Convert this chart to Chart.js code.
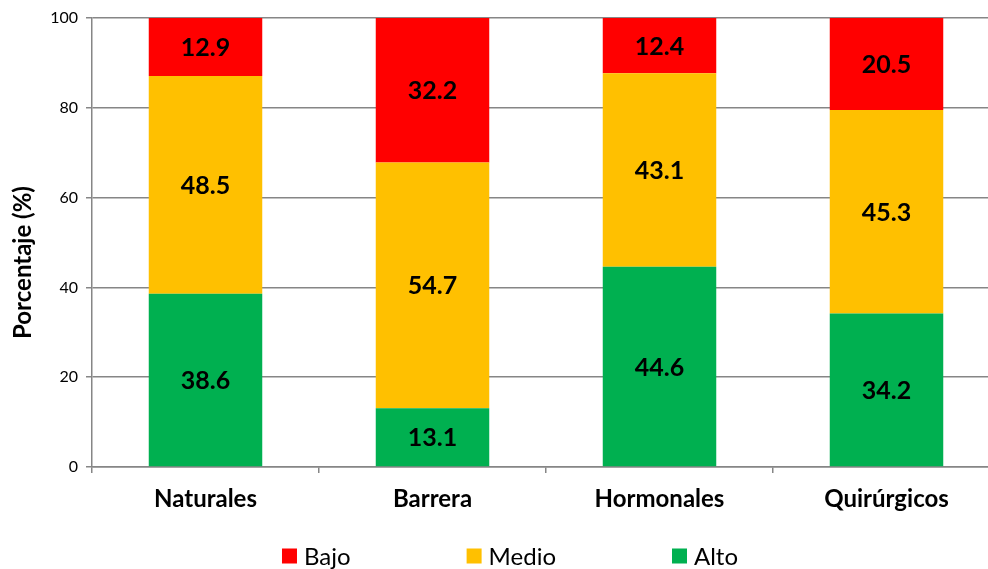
<!DOCTYPE html>
<html>
<head>
<meta charset="utf-8">
<script src="https://cdn.jsdelivr.net/npm/chart.js@4/dist/chart.umd.min.js"></script>
<style>
  html, body { margin: 0; padding: 0; background: #fff; overflow: hidden; }
  #wrap { width: 1000px; height: 569px; }
</style>
</head>
<body>
<div id="wrap"><canvas id="c" width="1000" height="569"></canvas></div>
<script>
// Métodos anticonceptivos y nivel de conocimiento (%)
const categories = ['Naturales', 'Barrera', 'Hormonales', 'Quirúrgicos'];
const bajo  = [12.9, 32.2, 12.4, 20.5];
const medio = [48.5, 54.7, 43.1, 45.3];
const alto  = [38.6, 13.1, 44.6, 34.2];
const yTicks = [0, 20, 40, 60, 80, 100];
const yTitle = 'Porcentaje (%)';

const FONT = 'Lato, "Open Sans", sans-serif';
const GRID = '#868686';

// Value labels centred in each stacked segment
const segmentLabels = {
  id: 'segmentLabels',
  afterDatasetsDraw(chart) {
    const ctx = chart.ctx;
    ctx.save();
    ctx.font = 'bold 25px ' + FONT;
    ctx.fillStyle = '#000';
    ctx.textAlign = 'center';
    ctx.textBaseline = 'middle';
    chart.data.datasets.forEach((ds, i) => {
      chart.getDatasetMeta(i).data.forEach((bar, j) => {
        const top = Math.max(bar.y, chart.chartArea.top);
        const cy = (top + bar.base) / 2;
        ctx.fillText(ds.data[j].toFixed(1), bar.x, cy + 1);
      });
    });
    ctx.restore();
  }
};

// Rotated y-axis title, sitting a little below the axis midpoint
const axisTitle = {
  id: 'axisTitle',
  afterDraw(chart) {
    const ctx = chart.ctx;
    const area = chart.chartArea;
    ctx.save();
    ctx.translate(23, (area.top + area.bottom) / 2 + 20);
    ctx.rotate(-Math.PI / 2);
    ctx.font = 'bold 24px ' + FONT;
    ctx.fillStyle = '#000';
    ctx.textAlign = 'center';
    ctx.textBaseline = 'middle';
    ctx.fillText(yTitle, 0, 0);
    ctx.restore();
  }
};

// Bottom legend with wide, even spacing between entries
const bottomLegend = {
  id: 'bottomLegend',
  afterDraw(chart) {
    const ctx = chart.ctx;
    const items = chart.data.datasets.slice().reverse();
    const box = 15, gapText = 7, gapItem = 116, cy = 556, centre = 510;
    ctx.save();
    ctx.font = '24px ' + FONT;
    ctx.textBaseline = 'middle';
    const widths = items.map(d => box + gapText + ctx.measureText(d.label).width);
    const total = widths.reduce((a, b) => a + b, 0) + gapItem * (items.length - 1);
    let x = centre - total / 2;
    items.forEach((d, i) => {
      ctx.fillStyle = d.backgroundColor;
      ctx.fillRect(x, cy - box / 2, box, box);
      ctx.fillStyle = '#000';
      ctx.textAlign = 'left';
      ctx.fillText(d.label, x + box + gapText, cy + 1);
      x += widths[i] + gapItem;
    });
    ctx.restore();
  }
};

new Chart(document.getElementById('c'), {
  type: 'bar',
  data: {
    labels: categories,
    datasets: [
      { label: 'Alto',  data: alto,  backgroundColor: '#00B050' },
      { label: 'Medio', data: medio, backgroundColor: '#FFC000' },
      { label: 'Bajo',  data: bajo,  backgroundColor: '#FF0000' }
    ]
  },
  options: {
    responsive: false,
    animation: false,
    devicePixelRatio: 1,
    layout: { padding: { top: 18, right: 0, bottom: 52, left: 0 } },
    datasets: { bar: { barPercentage: 0.5, categoryPercentage: 1.0, borderWidth: 0 } },
    plugins: {
      legend: { display: false },
      tooltip: { enabled: false }
    },
    scales: {
      x: {
        stacked: true,
        offset: true,
        grid: { display: true, offset: true, drawOnChartArea: false, drawTicks: true, tickLength: 6, color: GRID, lineWidth: 1.5 },
        border: { display: true, color: GRID, width: 1.5 },
        ticks: { color: '#000', font: { family: FONT, size: 24, weight: 'bold' }, padding: 12 },
        afterFit(scale) { scale.height = 50; }
      },
      y: {
        stacked: true,
        min: 0,
        max: 100,
        afterBuildTicks(scale) { scale.ticks = yTicks.map(v => ({ value: v })); },
        grid: { color: GRID, lineWidth: 1.5, tickLength: 6 },
        border: { display: true, color: GRID, width: 1.5 },
        ticks: { color: '#000', font: { family: FONT, size: 16 }, padding: 8 },
        title: { display: false },
        afterFit(scale) { scale.width = 92; }
      }
    }
  },
  plugins: [segmentLabels, axisTitle, bottomLegend]
});
</script>
</body>
</html>
